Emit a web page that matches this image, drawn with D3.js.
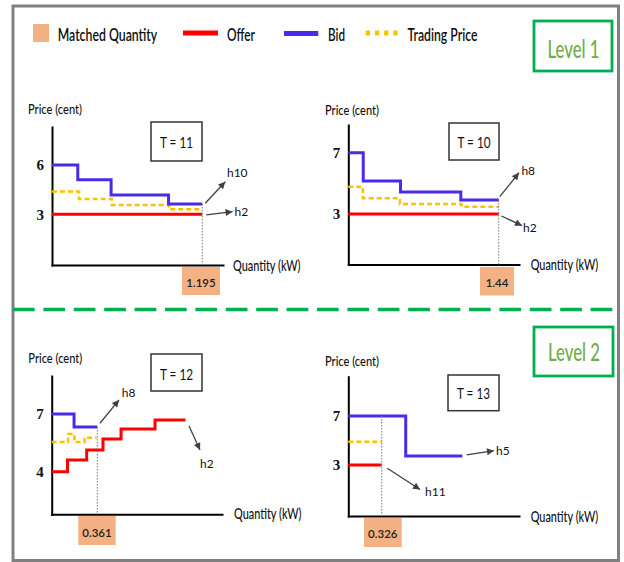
<!DOCTYPE html>
<html><head><meta charset="utf-8">
<script src="https://cdn.jsdelivr.net/npm/d3@7"></script>
<style>html,body{margin:0;padding:0;background:#fff;} svg{display:block;font-family:Lato,'Open Sans',sans-serif;}</style>
</head><body><svg id="c" width="624" height="562"></svg>
<script>
// ---------- DATA ----------
const legendLabels = ["Matched Quantity", "Offer", "Bid", "Trading Price"];
const levelLabels = ["Level 1", "Level 2"];
const panelTitles = ["T = 11", "T = 10", "T = 12", "T = 13"];
const matchedQty = [1.195, 1.44, 0.361, 0.326];
const matchedLabels = ["1.195", "1.44", "0.361", "0.326"];
const yTickValues = [[3, 6], [3, 7], [4, 7], [3, 7]];
const yAxisTitle = "Price (cent)";
const xAxisTitle = "Quantity (kW)";

// T = 11
const t11BidQty = [0, 0.205, 0.47, 0.927, 1.195];
const t11BidPrice = [6, 5.1, 4.17, 3.63];
const t11OfferQty = [0, 1.195];
const t11OfferPrice = [3];
const t11TradeQty = [0, 0.215, 0.476, 0.932, 1.195];
const t11TradePrice = [4.38, 3.93, 3.57, 3.30];
// T = 10
const t10BidQty = [0, 0.143, 0.5, 1.077, 1.44];
const t10BidPrice = [7, 5.15, 4.43, 3.91];
const t10OfferQty = [0, 1.44];
const t10OfferPrice = [3];
const t10TradeQty = [0, 0.14, 0.494, 1.084, 1.44];
const t10TradePrice = [4.78, 4.02, 3.65, 3.48];
// T = 12
const t12BidQty = [0, 0.177, 0.361];
const t12BidPrice = [7, 6.32];
const t12OfferQty = [0, 0.125, 0.277, 0.406, 0.549, 0.818, 1.059];
const t12OfferPrice = [4, 4.61, 5.13, 5.7, 6.22, 6.69];
const t12TradeQty = [0, 0.13, 0.18, 0.26, 0.355];
const t12TradePrice = [5.54, 5.96, 5.54, 5.77];
// T = 13
const t13BidQty = [0, 0.56, 1.112];
const t13BidPrice = [7, 3.73];
const t13OfferQty = [0, 0.326];
const t13OfferPrice = [3];
const t13TradeQty = [0, 0.326];
const t13TradePrice = [4.9];

// arrow annotations in data units [q0, v0, q1, v1]
const arrowLabels = [["h10", "h2"], ["h8", "h2"], ["h8", "h2"], ["h5", "h11"]];
const arrowCoords = [
  [[1.219, 3.67, 1.378, 4.98], [1.227, 2.96, 1.436, 3.16]],
  [[1.450, 4.13, 1.634, 5.69], [1.466, 2.87, 1.663, 2.24]],
  [[0.382, 6.52, 0.533, 7.73], [1.087, 6.38, 1.174, 5.13]],
  [[1.155, 3.82, 1.421, 4.17], [0.380, 2.73, 0.700, 1.0]]
];

const series = [
  {bidQ: t11BidQty, bidP: t11BidPrice, offQ: t11OfferQty, offP: t11OfferPrice, trQ: t11TradeQty, trP: t11TradePrice},
  {bidQ: t10BidQty, bidP: t10BidPrice, offQ: t10OfferQty, offP: t10OfferPrice, trQ: t10TradeQty, trP: t10TradePrice},
  {bidQ: t12BidQty, bidP: t12BidPrice, offQ: t12OfferQty, offP: t12OfferPrice, trQ: t12TradeQty, trP: t12TradePrice},
  {bidQ: t13BidQty, bidP: t13BidPrice, offQ: t13OfferQty, offP: t13OfferPrice, trQ: t13TradeQty, trP: t13TradePrice}
];

// ---------- LAYOUT / STYLE ----------
const COL = {bid: "#4A2BE8", offer: "#FF0000", trade: "#FFC000", matched: "#F4B183",
  green: "#00B050", levelText: "#70AD47", frame: "#808080", arrow: "#404040"};

const layout = [
  {x0: 52, xEnd: 223, qMax: 1.36, yBot: 265, yTop: 127, yA: [3, 214.3], yB: [6, 165],
   price: [28, 114], qty: [233, 270.5], tBox: [151, 122, 51, 39], tText: [176.5, 148.3],
   mBox: [182, 267, 38, 28], mText: [201, 286.5],
   lblOff: [[1.7, -4.4], [2, 4.3]]},
  {x0: 348.3, xEnd: 519, qMax: 1.634, yBot: 264.5, yTop: 125, yA: [3, 214], yB: [7, 152.7],
   price: [325, 114.5], qty: [530.7, 270], tBox: [449, 123, 50, 37], tText: [474, 148],
   mBox: [480, 267, 34, 28.5], mText: [497, 286.5],
   lblOff: [[2.4, 2.3], [1, 6.7]]},
  {x0: 51.7, xEnd: 222, qMax: 1.348, yBot: 514.3, yTop: 376, yA: [4, 471.7], yB: [7, 414],
   price: [28.3, 363], qty: [234, 518.5], tBox: [151, 354, 51, 37], tText: [176.5, 380],
   mBox: [78.3, 516, 37.4, 29], mText: [97, 536.5],
   lblOff: [[2.7, -2.7], [0, 18]]},
  {x0: 348.3, xEnd: 519, qMax: 1.665, yBot: 516, yTop: 376.7, yA: [3, 465], yB: [7, 416],
   price: [325, 366], qty: [530.7, 521.5], tBox: [448, 375, 51, 35.7], tText: [473.5, 399.3],
   mBox: [364, 518, 37.7, 29], mText: [382.8, 538],
   lblOff: [[2, 4.3], [5, 6.7]]}
];

const svg = d3.select("#c");

// arrow marker
svg.append("defs").append("marker")
  .attr("id", "ah").attr("viewBox", "0 0 10 10").attr("refX", 10).attr("refY", 5)
  .attr("markerUnits", "userSpaceOnUse").attr("markerWidth", 8).attr("markerHeight", 7)
  .attr("orient", "auto")
  .append("path").attr("d", "M0,0 L10,5 L0,10 Z").attr("fill", COL.arrow);

// frame
svg.append("rect").attr("x", 13).attr("y", 6).attr("width", 605.5).attr("height", 554.5)
  .attr("fill", "#fff").attr("stroke", COL.frame).attr("stroke-width", 3);

// legend
const lg = svg.append("g");
lg.append("rect").attr("x", 33).attr("y", 24).attr("width", 16).attr("height", 18).attr("fill", COL.matched);
const legendLines = [null, {x1: 183, x2: 218, y: 33, c: COL.offer, d: null},
  {x1: 284, x2: 318.3, y: 33.5, c: COL.bid, d: null}, {x1: 365.7, x2: 398, y: 33, c: COL.trade, d: "4.3 4.9"}];
legendLines.forEach(l => {
  if (!l) return;
  lg.append("line").attr("x1", l.x1).attr("x2", l.x2).attr("y1", l.y).attr("y2", l.y)
    .attr("stroke", l.c).attr("stroke-width", 5).attr("stroke-dasharray", l.d);
});
const legendTextPos = [[57.7, 99.6], [227, 28], [328, 17], [407.5, 70]];
legendLabels.forEach((t, i) => {
  lg.append("text").attr("x", legendTextPos[i][0]).attr("y", 40.5).text(t)
    .attr("font-size", 18).attr("font-weight", 600).attr("fill", "#111")
    .attr("textLength", legendTextPos[i][1]).attr("lengthAdjust", "spacingAndGlyphs");
});

// level boxes
const levelPos = [[534, 21, 78, 50, 57.5], [534, 327, 79, 49, 360.5]];
levelLabels.forEach((t, i) => {
  const p = levelPos[i];
  svg.append("rect").attr("x", p[0]).attr("y", p[1]).attr("width", p[2]).attr("height", p[3])
    .attr("fill", "#fff").attr("stroke", COL.green).attr("stroke-width", 2.8);
  svg.append("text").attr("x", p[0] + p[2] / 2 + 0.5).attr("y", p[4]).attr("text-anchor", "middle")
    .attr("font-size", 24).attr("font-weight", 500).attr("fill", COL.levelText).text(t)
    .attr("textLength", 52).attr("lengthAdjust", "spacingAndGlyphs");
});

// separator
svg.append("line").attr("x1", 13).attr("x2", 618).attr("y1", 309.5).attr("y2", 309.5)
  .attr("stroke", COL.green).attr("stroke-width", 3.5).attr("stroke-dasharray", "21.7 8.7");

function stepPoints(q, p) { return q.map((qq, i) => [qq, p[Math.min(i, p.length - 1)]]); }
function priceAt(q, p, m) {
  let idx = 0;
  q.forEach((qq, i) => { if (qq <= m) idx = i; });
  return p[Math.min(idx, p.length - 1)];
}

series.forEach((s, k) => {
  const L = layout[k];
  const g = svg.append("g");
  const x = d3.scaleLinear().domain([0, L.qMax]).range([L.x0, L.xEnd]);
  const y = d3.scaleLinear().domain([L.yA[0], L.yB[0]]).range([L.yA[1], L.yB[1]]);
  y.domain([y.invert(L.yBot), y.invert(L.yTop)]).range([L.yBot, L.yTop]);

  // axes
  const ya = g.append("g").attr("transform", `translate(${L.x0},0)`)
    .call(d3.axisLeft(y).tickValues(yTickValues[k]).tickSize(0).tickSizeOuter(0).tickPadding(8));
  ya.selectAll("text").attr("font-family", "'Liberation Serif', serif").attr("font-size", 15)
    .attr("font-weight", "bold").attr("fill", "#111");
  g.append("g").attr("transform", `translate(0,${L.yBot})`)
    .call(d3.axisBottom(x).tickValues([]).tickSizeOuter(0));
  g.selectAll(".domain").attr("stroke", "#000").attr("stroke-width", 2).attr("stroke-linecap", "square");

  // axis titles
  g.append("text").attr("x", L.price[0]).attr("y", L.price[1]).text(yAxisTitle)
    .attr("font-size", 14).attr("font-weight", 500).attr("fill", "#111")
    .attr("textLength", 54).attr("lengthAdjust", "spacingAndGlyphs");
  g.append("text").attr("x", L.qty[0]).attr("y", L.qty[1]).text(xAxisTitle)
    .attr("font-size", 14.5).attr("font-weight", 500).attr("fill", "#111")
    .attr("textLength", 67.5).attr("lengthAdjust", "spacingAndGlyphs");

  // title box
  g.append("rect").attr("x", L.tBox[0]).attr("y", L.tBox[1]).attr("width", L.tBox[2]).attr("height", L.tBox[3])
    .attr("fill", "#fff").attr("stroke", "#333").attr("stroke-width", 1.5);
  g.append("text").attr("x", L.tText[0]).attr("y", L.tText[1]).attr("text-anchor", "middle")
    .text(panelTitles[k]).attr("font-size", 16).attr("fill", "#111")
    .attr("textLength", 33).attr("lengthAdjust", "spacingAndGlyphs");

  const line = d3.line().x(d => x(d[0])).y(d => y(d[1])).curve(d3.curveStepAfter);
  // offer
  g.append("path").attr("d", line(stepPoints(s.offQ, s.offP))).attr("fill", "none")
    .attr("stroke", COL.offer).attr("stroke-width", 3);
  // trading price
  g.append("path").attr("d", line(stepPoints(s.trQ, s.trP))).attr("fill", "none")
    .attr("stroke", COL.trade).attr("stroke-width", 2.5).attr("stroke-dasharray", "5 3");
  // bid
  g.append("path").attr("d", line(stepPoints(s.bidQ, s.bidP))).attr("fill", "none")
    .attr("stroke", COL.bid).attr("stroke-width", 3);

  // matched quantity marker
  const m = matchedQty[k];
  g.append("line").attr("x1", x(m)).attr("x2", x(m)).attr("y1", y(priceAt(s.bidQ, s.bidP, m))).attr("y2", L.yBot)
    .attr("stroke", "#777").attr("stroke-width", 1).attr("stroke-dasharray", "1.5 1.5");
  g.append("rect").attr("x", L.mBox[0]).attr("y", L.mBox[1]).attr("width", L.mBox[2]).attr("height", L.mBox[3])
    .attr("fill", COL.matched);
  g.append("text").attr("x", L.mText[0]).attr("y", L.mText[1]).attr("text-anchor", "middle")
    .text(matchedLabels[k]).attr("font-size", 11.5).attr("font-weight", 600).attr("fill", "#222");

  // arrows
  arrowCoords[k].forEach((a, j) => {
    g.append("line").attr("x1", x(a[0])).attr("y1", y(a[1])).attr("x2", x(a[2])).attr("y2", y(a[3]))
      .attr("stroke", COL.arrow).attr("stroke-width", 1.3).attr("marker-end", "url(#ah)");
    g.append("text").attr("x", x(a[2]) + L.lblOff[j][0]).attr("y", y(a[3]) + L.lblOff[j][1])
      .text(arrowLabels[k][j]).attr("font-size", 12).attr("fill", "#111");
  });
});
</script></body></html>
